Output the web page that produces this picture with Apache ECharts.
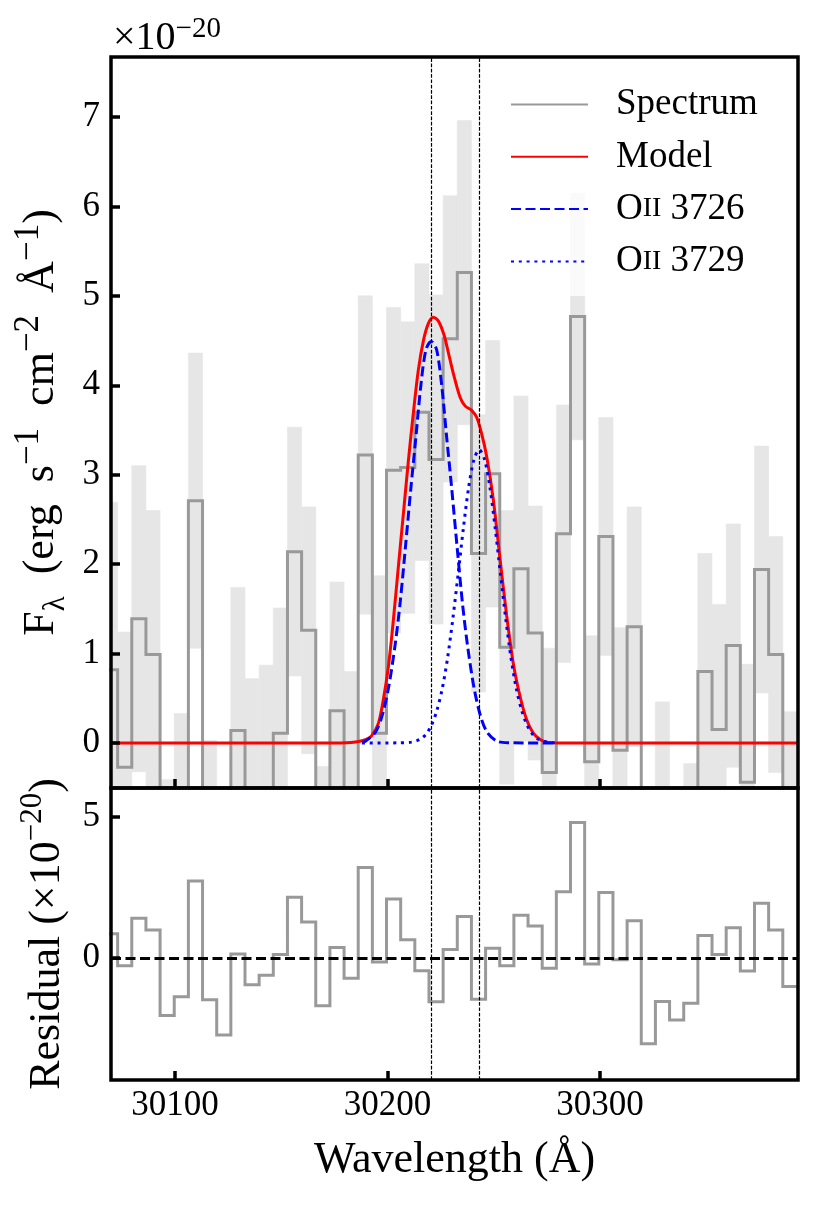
<!DOCTYPE html>
<html>
<head>
<meta charset="utf-8">
<script src="https://cdn.jsdelivr.net/npm/echarts@6.0.0/dist/echarts.min.js"></script>
<style>
html,body{margin:0;padding:0;background:#fff;}
#chart{width:821px;height:1207px;}
</style>
</head>
<body>
<div id="chart"></div>
<script>
// ---------------- data ----------------
const binWidth = 6.66;
const wave = [30069.67, 30076.33, 30082.99, 30089.65, 30096.31, 30102.97, 30109.63, 30116.29, 30122.95, 30129.61,
  30136.27, 30142.93, 30149.59, 30156.25, 30162.91, 30169.57, 30176.23, 30182.89, 30189.55, 30196.21,
  30202.87, 30209.53, 30216.19, 30222.85, 30229.51, 30236.17, 30242.83, 30249.49, 30256.15, 30262.81,
  30269.47, 30276.13, 30282.79, 30289.45, 30296.11, 30302.77, 30309.43, 30316.09, 30322.75, 30329.41,
  30336.07, 30342.73, 30349.39, 30356.05, 30362.71, 30369.37, 30376.03, 30382.69, 30389.35];
const flux = [0.82, -0.27, 1.39, 0.99, -2.02, -1.36, 2.71, -1.47, -2.71, 0.14,
  -0.94, -0.60, 0.11, 2.14, 1.26, -1.68, 0.36, -0.71, 3.22, 0.11,
  3.05, 3.08, 3.70, 3.17, 4.52, 5.26, 2.12, 3.01, 1.07, 1.95,
  1.23, -0.33, 2.34, 4.77, -0.21, 2.31, -0.08, 1.30, -3.02, -1.53,
  -2.18, -1.59, 0.80, 0.15, 1.09, -0.44, 1.94, 0.99, -1.00];
const fluxErr = [1.87, 1.51, 1.71, 1.61, 1.61, 1.69, 1.65, 1.50, 1.55, 1.60,
  1.66, 1.47, 1.40, 1.39, 1.38, 1.42, 1.44, 1.51, 1.78, 1.76,
  1.82, 1.63, 1.66, 1.84, 1.60, 1.70, 1.55, 1.49, 1.53, 1.93,
  1.42, 1.39, 1.44, 1.38, 1.41, 1.33, 1.37, 1.34, 1.40, 1.99,
  1.40, 1.36, 1.32, 1.40, 1.36, 1.32, 1.38, 1.32, 1.35];
const residual = [0.86, -0.27, 1.41, 1.00, -2.02, -1.36, 2.73, -1.47, -2.71, 0.15,
  -0.94, -0.60, 0.13, 2.15, 1.28, -1.68, 0.38, -0.71, 3.20, -0.13,
  2.09, 0.65, -0.44, -1.54, 0.31, 1.47, -1.45, 0.35, -0.27, 1.52,
  1.14, -0.35, 2.35, 4.79, -0.20, 2.32, -0.05, 1.32, -3.02, -1.53,
  -2.18, -1.59, 0.80, 0.13, 1.08, -0.45, 1.94, 1.00, -1.00];

const modelWave = [30069.9, 30178, 30183, 30187, 30190, 30192.5, 30195.7, 30198.0, 30200.4, 30202.7,
  30205.1, 30207.5, 30209.8, 30212.2, 30214.5, 30216.9, 30219.2, 30221.6, 30223.9, 30226.5,
  30228.5, 30231.0, 30234.1, 30236.5, 30239.6, 30242.0, 30244.3, 30246.7, 30249.8, 30253.0,
  30256.1, 30259.2, 30262.4, 30265.5, 30268.6, 30271.8, 30275.0, 30281, 30393.2];
const modelFlux = [0, 0, 0.005, 0.02, 0.04, 0.08, 0.22, 0.48, 0.85, 1.36,
  1.97, 2.57, 3.15, 3.70, 4.17, 4.50, 4.69, 4.76, 4.72, 4.57,
  4.38, 4.13, 3.87, 3.77, 3.72, 3.64, 3.46, 3.20, 2.72, 2.05,
  1.42, 0.89, 0.52, 0.26, 0.11, 0.04, 0.01, 0, 0];

const o3726Wave = [30188, 30189.6, 30194.3, 30197.4, 30200.5, 30203.6, 30206.0, 30208.4, 30211.0, 30213.4,
  30215.7, 30218.1, 30220.6, 30223.1, 30225.5, 30227.8, 30230.2, 30232.8, 30235.2, 30237.6,
  30240.7, 30243.8, 30246.9, 30251.6, 30257, 30280];
const o3726Flux = [0.005, 0.02, 0.12, 0.30, 0.62, 1.10, 1.58, 2.18, 2.85, 3.43,
  4.00, 4.40, 4.49, 4.40, 4.00, 3.43, 2.85, 2.18, 1.58, 1.10,
  0.62, 0.30, 0.12, 0.02, 0.003, 0];

const o3729Wave = [30188, 30205, 30211.2, 30215.2, 30218.2, 30220.7, 30223.2, 30225.7, 30228.2, 30230.7,
  30233.2, 30235.7, 30238.2, 30240.7, 30243.2, 30245.7, 30248.2, 30250.7, 30253.2, 30255.7,
  30258.2, 30260.7, 30263.2, 30265.7, 30268.2, 30271.2, 30275.2, 30280];
const o3729Flux = [0, 0.002, 0.01, 0.04, 0.10, 0.20, 0.36, 0.60, 0.94, 1.38,
  1.88, 2.40, 2.86, 3.17, 3.28, 3.17, 2.86, 2.40, 1.88, 1.38,
  0.94, 0.60, 0.36, 0.20, 0.10, 0.04, 0.01, 0];

const lineCenters = [30220.4, 30243.1];
const xTicks = [30100, 30200, 30300];
const yTicksTop = [0, 1, 2, 3, 4, 5, 6, 7];
const yTicksRes = [0, 5];
const xRange = [30069.88, 30393.18];
const yRangeTop = [-0.503, 7.671];
const yRangeRes = [-4.30, 6.01];

// ---------------- build ----------------
const FONT = "'Liberation Serif', 'DejaVu Serif', serif";
const half = binWidth / 2;
function stepPts(vals) {
  const pts = [];
  for (let i = 0; i < wave.length; i++) {
    pts.push([wave[i] - half, vals[i]], [wave[i] + half, vals[i]]);
  }
  return pts;
}
const bandData = wave.map((w, i) => [w - half, w + half, flux[i] - fluxErr[i], flux[i] + fluxErr[i]]);
const zip = (a, b) => a.map((v, i) => [v, b[i]]);

const GRAY = '#999999';
const LW = 3;
const tickStyle = {show: true, inside: true, length: 9, lineStyle: {color: '#000', width: 3.5}};
const labelStyle = {color: '#000', fontFamily: FONT, fontSize: 35};
const EN = '\u2002';

const vLines = {
  silent: true, symbol: 'none', animation: false,
  label: {show: false},
  lineStyle: {color: '#000', width: 1.2, type: [3.7, 1.6]},
  data: lineCenters.map(c => ({xAxis: c}))
};

const chart = echarts.init(document.getElementById('chart'), null, {renderer: 'canvas'});
const option = {
  animation: false,
  backgroundColor: '#fff',
  grid: [
    {left: 111, top: 57, width: 687, height: 731, show: true, z: 10, borderColor: '#000', borderWidth: 3.5, backgroundColor: 'transparent'},
    {left: 111, top: 788, width: 687, height: 292, show: true, z: 10, borderColor: '#000', borderWidth: 3.5, backgroundColor: 'transparent'}
  ],
  xAxis: [
    {gridIndex: 0, type: 'value', z: 11, min: xRange[0], max: xRange[1], position: 'bottom',
      axisLine: {show: false, onZero: false}, splitLine: {show: false},
      axisTick: Object.assign({customValues: xTicks}, tickStyle),
      axisLabel: {show: false, customValues: xTicks}},
    {gridIndex: 1, type: 'value', z: 11, min: xRange[0], max: xRange[1], position: 'bottom',
      axisLine: {show: false, onZero: false}, splitLine: {show: false},
      axisTick: Object.assign({customValues: xTicks}, tickStyle),
      axisLabel: Object.assign({show: true, customValues: xTicks, margin: 8, formatter: v => String(v)}, labelStyle),
      name: 'Wavelength (Å)', nameLocation: 'middle', nameGap: 58,
      nameTextStyle: {color: '#000', fontFamily: FONT, fontSize: 44}}
  ],
  yAxis: [
    {gridIndex: 0, type: 'value', z: 11, min: yRangeTop[0], max: yRangeTop[1],
      axisLine: {show: false, onZero: false}, splitLine: {show: false},
      axisTick: Object.assign({customValues: yTicksTop}, tickStyle),
      axisLabel: Object.assign({show: true, customValues: yTicksTop, margin: 11}, labelStyle),
      name: '{n|F}{sub|λ}{n|' + EN + '(erg' + EN + 's}{sup|−1}{n|' + EN + 'cm}{sup|−2}{n|' + EN + 'Å}{sup|−1}{n|)}',
      nameLocation: 'middle', nameGap: 34,
      nameTextStyle: {color: '#000', fontFamily: FONT, fontSize: 44,
        rich: {
          n: {fontFamily: FONT, fontSize: 44, lineHeight: 60, color: '#000'},
          sup: {fontFamily: FONT, fontSize: 35, lineHeight: 38, verticalAlign: 'top', color: '#000'},
          sub: {fontFamily: FONT, fontSize: 31, lineHeight: 30, verticalAlign: 'bottom', color: '#000'}
        }}},
    {gridIndex: 1, type: 'value', z: 11, min: yRangeRes[0], max: yRangeRes[1],
      axisLine: {show: false, onZero: false}, splitLine: {show: false},
      axisTick: Object.assign({customValues: yTicksRes}, tickStyle),
      axisLabel: Object.assign({show: true, customValues: yTicksRes, margin: 11}, labelStyle),
      name: '{n|Residual (×10}{sup|−20}{n|)}',
      nameLocation: 'middle', nameGap: 34,
      nameTextStyle: {color: '#000', fontFamily: FONT, fontSize: 44,
        rich: {
          n: {fontFamily: FONT, fontSize: 44, lineHeight: 60, color: '#000'},
          sup: {fontFamily: FONT, fontSize: 31, lineHeight: 36, verticalAlign: 'top', color: '#000'}
        }}}
  ],
  legend: {
    data: ['Spectrum', 'Model', 'OII 3726', 'OII 3729'],
    orient: 'vertical', left: 496, top: 75,
    padding: [11, 15, 16, 14],
    itemWidth: 77, itemHeight: 36, itemGap: 15.3,
    backgroundColor: 'rgba(255,255,255,0.8)',
    borderWidth: 0,
    selectedMode: false,
    itemStyle: {color: 'rgba(0,0,0,0)', borderColor: 'rgba(0,0,0,0)', borderWidth: 0, opacity: 0},
    formatter: function (name) {
      if (name === 'OII 3726') return '{n|O}{sc|II}{n| 3726}';
      if (name === 'OII 3729') return '{n|O}{sc|II}{n| 3729}';
      return '{n|' + name + '}';
    },
    textStyle: {
      color: '#000', fontFamily: FONT, fontSize: 37, padding: [0, 0, 0, 23],
      rich: {
        n: {fontFamily: FONT, fontSize: 37, lineHeight: 36, color: '#000'},
        sc: {fontFamily: FONT, fontSize: 28, lineHeight: 36, color: '#000'}
      }
    }
  },
  graphic: [{
    type: 'text', left: 113, top: 15, silent: true,
    style: {
      text: '{a|×10}{b|−20}',
      fill: '#000',
      rich: {
        a: {fontFamily: FONT, fontSize: 40, lineHeight: 46, fill: '#000'},
        b: {fontFamily: FONT, fontSize: 29, lineHeight: 30, verticalAlign: 'top', fill: '#000'}
      }
    }
  }],
  series: [
    {
      type: 'custom', name: 'band', xAxisIndex: 0, yAxisIndex: 0, z: 1, silent: true,
      data: bandData, encode: {x: [0, 1], y: [2, 3]},
      renderItem: function (params, api) {
        const p0 = api.coord([api.value(0), api.value(3)]);
        const p1 = api.coord([api.value(1), api.value(2)]);
        const cs = params.coordSys;
        const r = echarts.graphic.clipRectByRect(
          {x: p0[0], y: p0[1], width: p1[0] - p0[0], height: p1[1] - p0[1]},
          {x: cs.x, y: cs.y, width: cs.width, height: cs.height});
        if (!r) return;
        return {type: 'rect', shape: r, style: {fill: '#e6e6e6', stroke: '#e6e6e6', lineWidth: 0.6}};
      }
    },
    {
      type: 'line', name: 'Spectrum', xAxisIndex: 0, yAxisIndex: 0, z: 2,
      data: stepPts(flux), symbol: 'none', silent: true,
      lineStyle: {color: GRAY, width: LW, join: 'miter'}, itemStyle: {color: GRAY},
      markLine: vLines
    },
    {
      type: 'line', name: 'Model', xAxisIndex: 0, yAxisIndex: 0, z: 3,
      data: zip(modelWave, modelFlux), symbol: 'none', smooth: 0.3, silent: true,
      lineStyle: {color: '#ff0000', width: LW}, itemStyle: {color: '#ff0000'}
    },
    {
      type: 'line', name: 'OII 3726', xAxisIndex: 0, yAxisIndex: 0, z: 4,
      data: zip(o3726Wave, o3726Flux), symbol: 'none', smooth: 0.3, silent: true,
      lineStyle: {color: '#0000ff', width: LW, type: [10, 4.5]}, itemStyle: {color: '#0000ff'}
    },
    {
      type: 'line', name: 'OII 3729', xAxisIndex: 0, yAxisIndex: 0, z: 4,
      data: zip(o3729Wave, o3729Flux), symbol: 'none', smooth: 0.3, silent: true,
      lineStyle: {color: '#0000ff', width: LW, type: [3, 4.8]}, itemStyle: {color: '#0000ff'}
    },
    {
      type: 'line', name: 'Residual', xAxisIndex: 1, yAxisIndex: 1, z: 2,
      data: stepPts(residual), symbol: 'none', silent: true,
      lineStyle: {color: GRAY, width: LW, join: 'miter'}, itemStyle: {color: GRAY},
      markLine: {
        silent: true, symbol: 'none', animation: false, label: {show: false},
        data: lineCenters.map(c => ({xAxis: c, lineStyle: {color: '#000', width: 1.2, type: [3.7, 1.6]}}))
          .concat([{yAxis: 0, lineStyle: {color: '#000', width: 2.8, type: [10, 4.5]}}])
      }
    }
  ]
};
chart.setOption(option);
</script>
</body>
</html>
